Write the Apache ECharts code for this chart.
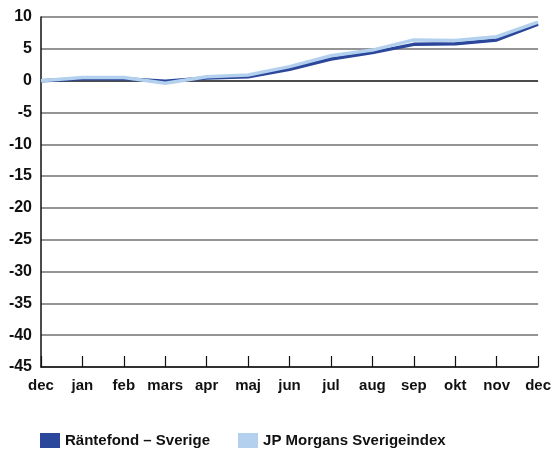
<!DOCTYPE html>
<html>
<head>
<meta charset="utf-8">
<script src="https://cdn.jsdelivr.net/npm/echarts@6/dist/echarts.min.js"></script>
<style>
  html, body { margin: 0; padding: 0; background: #fff; }
  #chart { width: 554px; height: 452px; }
</style>
</head>
<body>
<div id="chart"></div>
<script>
const months = ['dec', 'jan', 'feb', 'mars', 'apr', 'maj', 'jun', 'jul', 'aug', 'sep', 'okt', 'nov', 'dec']
const rantefond = [0, 0.3, 0.3, -0.1, 0.4, 0.6, 1.8, 3.4, 4.4, 5.7, 5.8, 6.4, 8.9]
const jpMorgan = [0, 0.5, 0.5, -0.4, 0.6, 0.9, 2.2, 3.9, 4.8, 6.4, 6.3, 6.9, 9.2]
const yMin = -45
const yMax = 10
const yStep = 5

const font = '"Liberation Sans", Arial, sans-serif'
// one colour per split line, from -45 up to 10; the zero line is black
const gridColors = []
for (let v = yMin; v <= yMax; v += yStep) gridColors.push(v === 0 ? '#111' : '#707070')

const chart = echarts.init(document.getElementById('chart'))
chart.setOption({
  animation: false,
  grid: { left: 41, right: 11, top: 17, bottom: 85 },
  legend: {
    top: 433,
    left: 40,
    padding: 0,
    itemWidth: 20,
    itemHeight: 15,
    itemGap: 28,
    icon: 'rect',
    textStyle: { fontFamily: font, fontWeight: 'bold', fontSize: 15, color: '#111' },
    data: ['Räntefond – Sverige', 'JP Morgans Sverigeindex'],
  },
  xAxis: {
    type: 'category',
    boundaryGap: false,
    data: months,
    axisLine: { onZero: false, lineStyle: { color: '#111', width: 1.5 } },
    axisTick: { show: true, inside: true, length: 11, interval: 0, lineStyle: { color: '#111', width: 1.2 } },
    axisLabel: { interval: 0, margin: 11, fontFamily: font, fontWeight: 'bold', fontSize: 15, color: '#111' },
  },
  yAxis: {
    type: 'value',
    min: yMin,
    max: yMax,
    interval: yStep,
    axisLine: { show: true, lineStyle: { color: '#111', width: 1.5 } },
    axisTick: { show: false },
    axisLabel: { margin: 9, fontFamily: font, fontWeight: 'bold', fontSize: 16, color: '#111' },
    splitLine: { lineStyle: { color: gridColors, width: 1.5 } },
  },
  series: [
    {
      name: 'Räntefond – Sverige',
      type: 'line',
      data: rantefond,
      symbol: 'none',
      itemStyle: { color: '#2b479b' },
      lineStyle: { color: '#2b479b', width: 3.5 },
    },
    {
      name: 'JP Morgans Sverigeindex',
      type: 'line',
      data: jpMorgan,
      symbol: 'none',
      itemStyle: { color: '#b3d0ee' },
      lineStyle: { color: '#b3d0ee', width: 3.5 },
    },
  ],
})
</script>
</body>
</html>
